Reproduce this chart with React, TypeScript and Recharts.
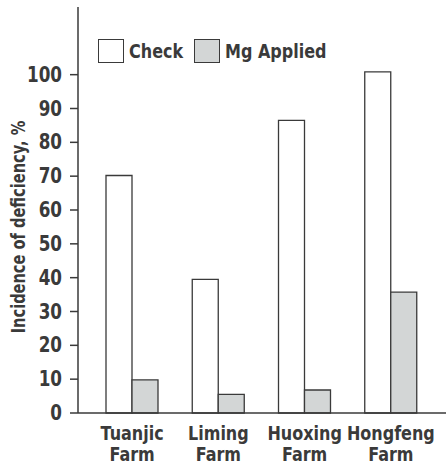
import { Bar, BarChart, Label, Legend, XAxis, YAxis } from 'recharts'

const farms = ['Tuanjic', 'Liming', 'Huoxing', 'Hongfeng']
const checkValues = [70.2, 39.5, 86.5, 100.8]
const mgAppliedValues = [9.8, 5.5, 6.8, 35.7]
const yTicks = [0, 10, 20, 30, 40, 50, 60, 70, 80, 90, 100]

const FONT = "'DejaVu Sans', 'Liberation Sans', sans-serif"
const INK = '#3a3a3a'
const MG_FILL = '#d3d6d6'
const SQUEEZE = 0.8

const data = farms.map((farm, i) => ({
  farm,
  check: checkValues[i],
  mg: mgAppliedValues[i],
}))

// condensed look: plain bold font squeezed horizontally
function FarmTick({ x, y, payload }: any) {
  return (
    <g transform={`translate(${x},${y}) scale(${SQUEEZE},1)`}>
      <text textAnchor="middle" fill={INK} fontFamily={FONT} fontWeight="bold" fontSize={20}>
        <tspan x={0} dy={19}>{payload.value}</tspan>
        <tspan x={0} dy={21}>Farm</tspan>
      </text>
    </g>
  )
}

function ValueTick({ x, y, payload }: any) {
  return (
    <g transform={`translate(${x},${y}) scale(${SQUEEZE},1)`}>
      <text
        textAnchor="end"
        dy={7}
        fill={INK}
        fontFamily={FONT}
        fontWeight="bold"
        fontSize={21}
      >
        {payload.value}
      </text>
    </g>
  )
}

function AxisTitle({ viewBox }: any) {
  const cx = viewBox.x + viewBox.width / 2 - 21
  const cy = viewBox.y + viewBox.height / 2 + 17
  return (
    <g transform={`translate(${cx},${cy}) rotate(-90) scale(0.73,1)`}>
      <text
        textAnchor="middle"
        dy={7}
        fill={INK}
        fontFamily={FONT}
        fontWeight="bold"
        fontSize={20}
      >
        Incidence of deficiency, %
      </text>
    </g>
  )
}

function LegendBoxes() {
  const item = (label: string, fill: string, gap: number) => (
    <div style={{ display: 'flex', alignItems: 'center', marginRight: gap }}>
      <div
        style={{
          width: 24,
          height: 22,
          background: fill,
          border: `1.5px solid ${INK}`,
          marginRight: 5,
        }}
      />
      <span
        style={{
          fontFamily: FONT,
          fontWeight: 'bold',
          fontSize: 20,
          color: INK,
          display: 'inline-block',
          transform: `scaleX(${SQUEEZE})`,
          transformOrigin: 'left center',
          whiteSpace: 'nowrap',
        }}
      >
        {label}
      </span>
    </div>
  )
  return (
    <div style={{ display: 'flex' }}>
      {item('Check', '#ffffff', -3)}
      {item('Mg Applied', MG_FILL, 0)}
    </div>
  )
}

export default function App() {
  return (
    <div style={{ position: 'absolute', left: 0, top: 0, background: '#fff' }}>
      <BarChart
        width={446}
        height={464}
        data={data}
        margin={{ top: 7, right: 0, bottom: 0, left: 0 }}
        barGap={0}
      >
        <XAxis
          dataKey="farm"
          height={51}
          padding={{ left: 11, right: 12 }}
          tickLine={false}
          axisLine={{ stroke: INK, strokeWidth: 1.5 }}
          tick={<FarmTick />}
          interval={0}
        />
        <YAxis
          width={78}
          domain={[0, 120]}
          ticks={yTicks}
          tickSize={8}
          tickMargin={8}
          axisLine={{ stroke: INK, strokeWidth: 1.5 }}
          tickLine={{ stroke: INK, strokeWidth: 1.5 }}
          tick={<ValueTick />}
        >
          <Label content={<AxisTitle />} />
        </YAxis>
        <Legend
          layout="vertical"
          align="center"
          verticalAlign="middle"
          wrapperStyle={{ position: 'absolute', left: 98, top: 39, width: 'auto' }}
          content={<LegendBoxes />}
        />
        <Bar
          dataKey="check"
          name="Check"
          fill="#ffffff"
          stroke={INK}
          strokeWidth={1.3}
          barSize={26}
          isAnimationActive={false}
        />
        <Bar
          dataKey="mg"
          name="Mg Applied"
          fill={MG_FILL}
          stroke={INK}
          strokeWidth={1.3}
          barSize={26}
          isAnimationActive={false}
        />
      </BarChart>
    </div>
  )
}
